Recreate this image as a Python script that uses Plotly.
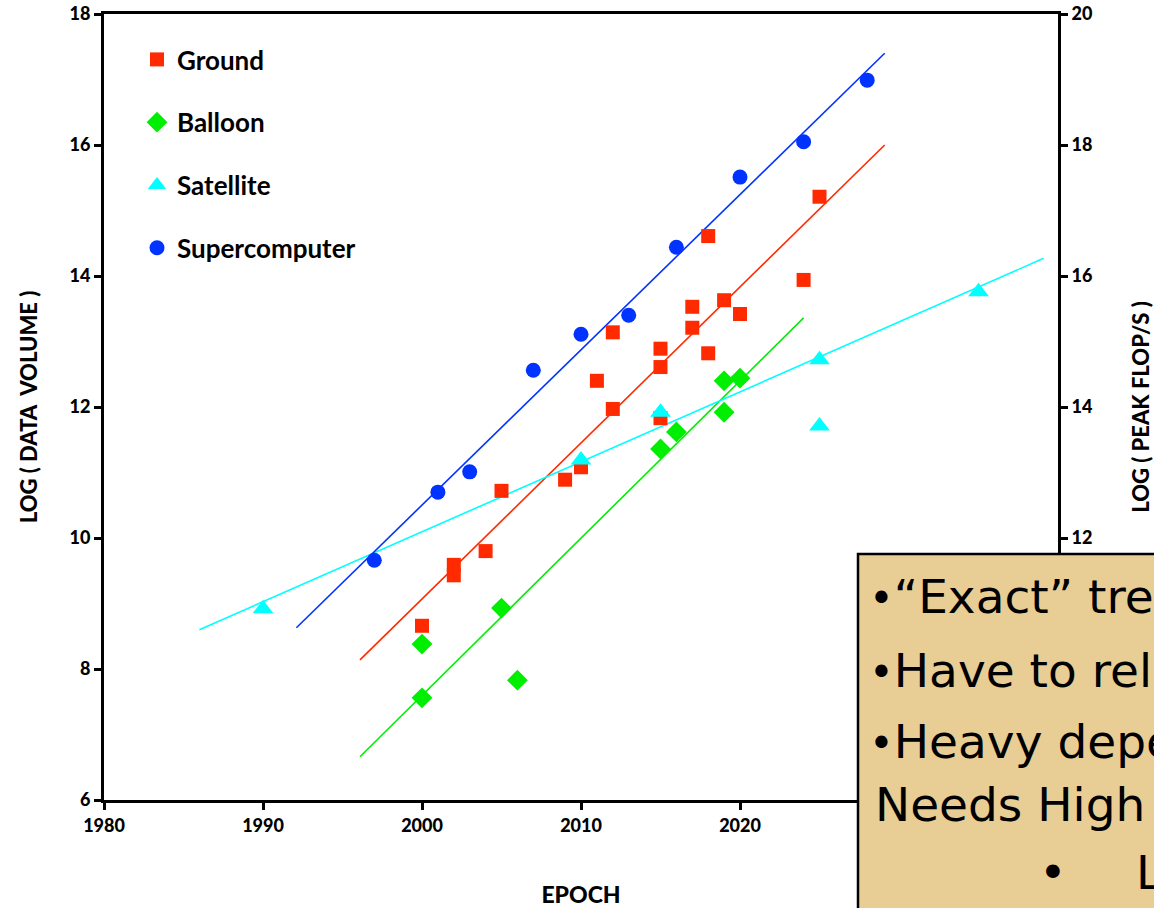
import plotly.graph_objects as go

# ---- data ----
ground_x = [2000, 2002, 2002, 2004, 2005, 2009, 2010, 2011, 2012, 2012, 2015, 2015, 2015,
            2017, 2017, 2018, 2018, 2019, 2020, 2024, 2025]
ground_y = [8.66, 9.59, 9.43, 9.80, 10.72, 10.89, 11.08, 12.40, 11.97, 13.14, 12.61, 12.89, 11.83,
            13.53, 13.21, 12.82, 14.61, 13.63, 13.42, 13.94, 15.21]

balloon_x = [2000, 2000, 2005, 2006, 2015, 2016, 2019, 2019, 2020]
balloon_y = [8.38, 7.56, 8.93, 7.83, 11.36, 11.62, 12.40, 11.92, 12.44]

satellite_x = [1990, 2010, 2015, 2025, 2025, 2035]
satellite_y = [8.92, 11.19, 11.92, 12.72, 11.71, 13.76]

super_x = [1997, 2001, 2003, 2007, 2010, 2013, 2016, 2020, 2024, 2028]
super_y = [9.66, 10.70, 11.01, 12.56, 13.11, 13.40, 14.44, 15.51, 16.05, 16.99]

# trend-line end points
ground_trend_x = [1996.1, 2029.1]
ground_trend_y = [8.14, 16.0]
balloon_trend_x = [1996.1, 2024.0]
balloon_trend_y = [6.66, 13.36]
satellite_trend_x = [1986.0, 2039.1]
satellite_trend_y = [8.60, 14.27]
super_trend_x = [1992.1, 2029.1]
super_trend_y = [8.63, 17.40]

# ticks visible in the reference (the rest are hidden behind the text box)
x_ticks = [1980, 1990, 2000, 2010, 2020]
y_ticks = [6, 8, 10, 12, 14, 16, 18]
y2_ticks = [12, 14, 16, 18, 20]

bullet_lines = ["“Exact” tre", "Have to rel", "Heavy depe"]
plain_line = "Needs High"
last_line = "L"

RED = "#FF2A00"
GREEN = "#00EE00"
CYAN = "#00FFFF"
BLUE = "#0033FF"

W, H = 1154, 908
L, R, T, B = 104, 96, 14, 108
PW, PH = W - L - R, H - T - B


def px(x):
    return (x - L) / PW


def py(y):
    return (H - B - y) / PH


fig = go.Figure()

# trend lines
for tx, ty, c in [(ground_trend_x, ground_trend_y, RED),
                  (balloon_trend_x, balloon_trend_y, GREEN),
                  (satellite_trend_x, satellite_trend_y, CYAN),
                  (super_trend_x, super_trend_y, BLUE)]:
    fig.add_trace(go.Scatter(x=tx, y=ty, mode="lines", line=dict(color=c, width=1.6),
                             showlegend=False, hoverinfo="skip"))

fig.add_trace(go.Scatter(x=ground_x, y=ground_y, mode="markers", name="Ground", legendgroup="g",
                         marker=dict(symbol="square", size=14, color=RED)))
fig.add_trace(go.Scatter(x=balloon_x, y=balloon_y, mode="markers", name="Balloon", legendgroup="b",
                         marker=dict(symbol="diamond", size=16, color=GREEN)))
fig.add_trace(go.Scatter(x=satellite_x, y=satellite_y, mode="markers", name="Satellite", legendgroup="s",
                         marker=dict(symbol="triangle-up", size=18, color=CYAN)))
fig.add_trace(go.Scatter(x=super_x, y=super_y, mode="markers", name="Supercomputer", legendgroup="c",
                         marker=dict(symbol="circle", size=15, color=BLUE)))

# invisible trace for right axis
fig.add_trace(go.Scatter(x=[None], y=[None], yaxis="y2", showlegend=False, hoverinfo="skip"))

tickfont = dict(family="Lato", size=18, color="black", weight=900)
titlefont = dict(family="Lato", size=22, color="black", weight=900)

fig.update_layout(
    width=W, height=H,
    margin=dict(l=L, r=R, t=T, b=B, autoexpand=False),
    paper_bgcolor="white", plot_bgcolor="white",
    showlegend=True,
    legend=dict(x=px(137), y=py(36), xanchor="left", yanchor="top",
                font=dict(family="Lato", size=26, color="black", weight="bold"),
                bgcolor="rgba(0,0,0,0)", tracegroupgap=26, itemwidth=30),
    xaxis=dict(range=[1980, 2040], tickvals=x_ticks, showgrid=False, zeroline=False,
               showline=True, linecolor="black", linewidth=3, mirror=True,
               ticks="outside", ticklen=7, tickwidth=2.5, tickcolor="black",
               tickfont=tickfont, automargin=False,
               title=dict(text="EPOCH", standoff=54,
                          font=dict(family="Lato", size=23, color="black", weight=900))),
    yaxis=dict(range=[6, 18], tickvals=y_ticks, showgrid=False, zeroline=False,
               showline=True, linecolor="black", linewidth=3,
               ticks="outside", ticklen=7, tickwidth=2.5, tickcolor="black",
               tickfont=tickfont, automargin=False,
               title=dict(text="LOG ( DATA  VOLUME )", standoff=26, font=titlefont)),
    yaxis2=dict(range=[8, 20], tickvals=y2_ticks, overlaying="y", side="right",
                showgrid=False, zeroline=False,
                showline=True, linecolor="black", linewidth=3,
                ticks="outside", ticklen=7, tickwidth=2.5, tickcolor="black",
                tickfont=tickfont, automargin=False,
                title=dict(text="LOG ( PEAK FLOP/S )", standoff=44, font=titlefont)),
)

# parchment text box
fig.add_shape(type="rect", xref="paper", yref="paper",
              x0=px(858), x1=px(1170), y0=py(554), y1=py(930),
              fillcolor="#E8CD95", line=dict(color="black", width=2.5), layer="above")

boxfont = dict(family="DejaVu Sans", size=47, color="black")
small_bullet = '<span style="font-size:42px">•</span>'
line_y = [596, 670, 741]
for txt, yy in zip(bullet_lines, line_y):
    fig.add_annotation(text=small_bullet + txt, xref="paper", yref="paper", x=px(867), y=py(yy),
                       xanchor="left", yanchor="middle", showarrow=False, font=boxfont)
fig.add_annotation(text=plain_line, xref="paper", yref="paper", x=px(873), y=py(805),
                   xanchor="left", yanchor="middle", showarrow=False, font=boxfont)
fig.add_annotation(text="•", xref="paper", yref="paper", x=px(1053), y=py(873),
                   xanchor="center", yanchor="middle", showarrow=False, font=boxfont)
fig.add_annotation(text=last_line, xref="paper", yref="paper", x=px(1134), y=py(873),
                   xanchor="left", yanchor="middle", showarrow=False, font=boxfont)

fig.write_html("out.html")
